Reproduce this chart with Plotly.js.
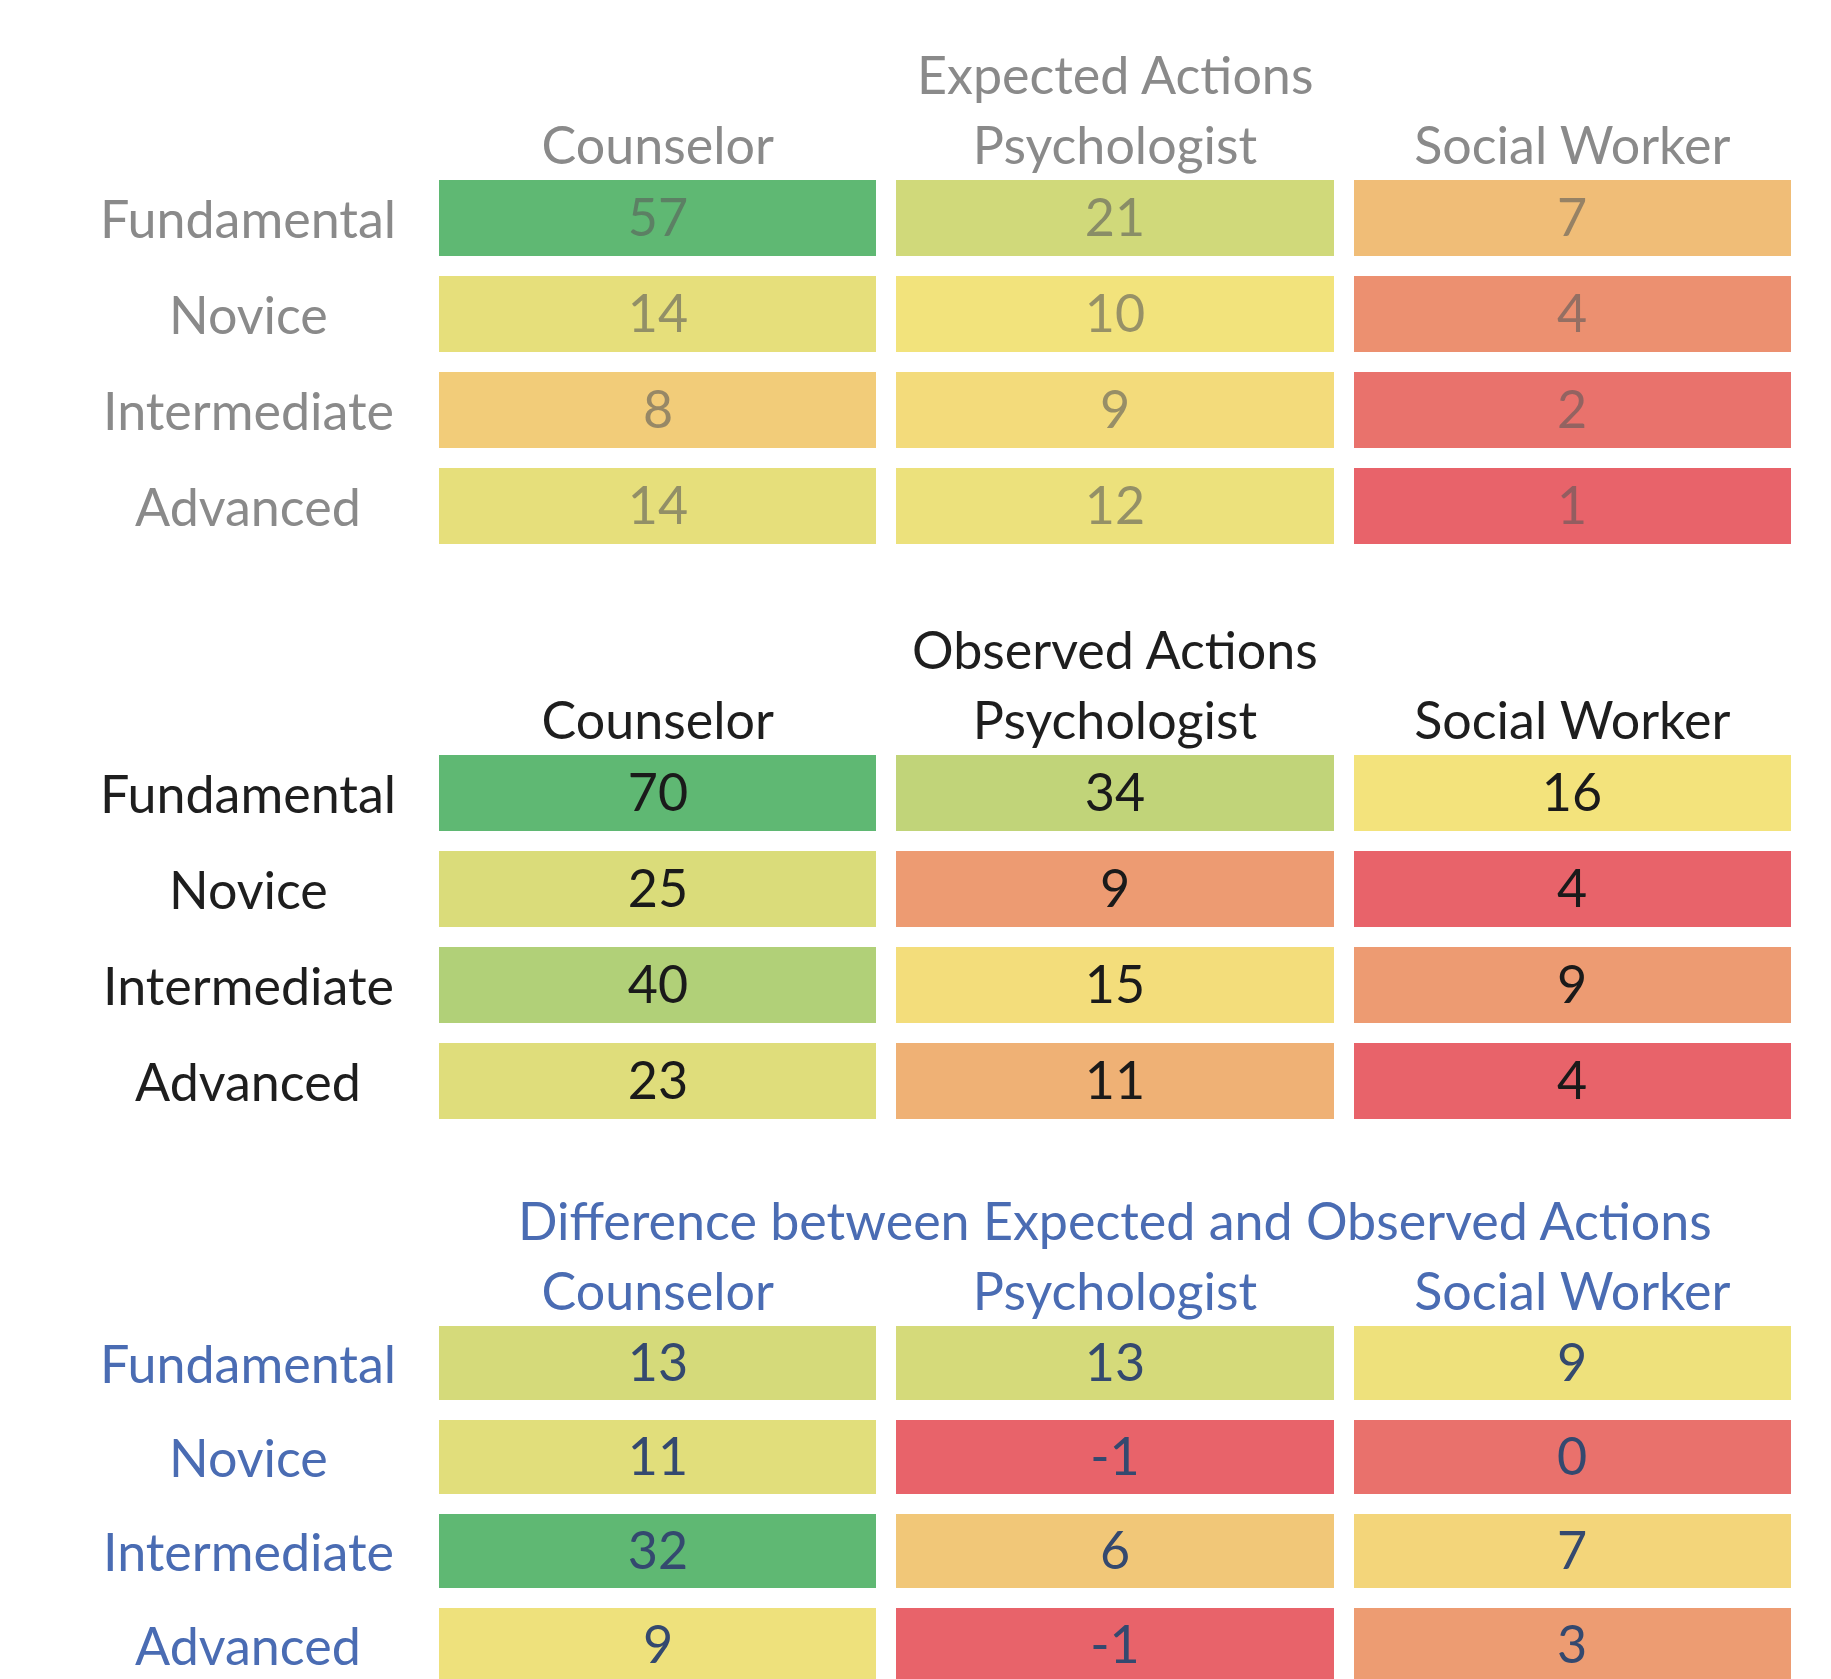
<!DOCTYPE html>
<html><head><meta charset="utf-8">
<script src="https://cdn.plot.ly/plotly-3.0.1.min.js"></script>
<style>html,body{margin:0;padding:0;background:#fff}</style>
</head><body><div id="chart" style="width:1831px;height:1679px"></div>
<script>
// ---- data ----
const roles = ['Counselor', 'Psychologist', 'Social Worker'];
const levels = ['Fundamental', 'Novice', 'Intermediate', 'Advanced'];
const expected = [[57, 21, 7], [14, 10, 4], [8, 9, 2], [14, 12, 1]];
const observed = [[70, 34, 16], [25, 9, 4], [40, 15, 9], [23, 11, 4]];
const difference = [[13, 13, 9], [11, -1, 0], [32, 6, 7], [9, -1, 3]];
const panelTitles = ['Expected Actions', 'Observed Actions', 'Difference between Expected and Observed Actions'];

// ---- styling ----
const W = 1831, H = 1679;
const FONT = 'Lato, "Open Sans", sans-serif';
const FS = 52;
const RED = '#E8636A', YEL = '#F4E37C', GRN = '#5FB873';

const panels = [
  { z: expected, title: panelTitles[0], labelColor: '#8a8a8a', cellText: 'rgba(90,90,90,0.6)', top: 170, unit: 96 },
  { z: observed, title: panelTitles[1], labelColor: '#1e1e1e', cellText: '#1a1a1a', top: 745, unit: 96 },
  { z: difference, title: panelTitles[2], labelColor: '#4a6cb3', cellText: '#34496f', top: 1316, unit: 94 }
];

function median(z) {
  const s = z.flat().slice().sort((a, b) => a - b), n = s.length;
  return n % 2 ? s[(n - 1) / 2] : (s[n / 2 - 1] + s[n / 2]) / 2;
}

const data = [], annotations = [];
const layout = {
  width: W, height: H,
  margin: { l: 0, r: 0, t: 0, b: 0 },
  paper_bgcolor: '#fff', plot_bgcolor: '#fff',
  showlegend: false,
  font: { family: FONT, size: FS }
};

panels.forEach((p, i) => {
  const k = i === 0 ? '' : String(i + 1);
  const flat = p.z.flat();
  const mn = Math.min(...flat), mx = Math.max(...flat);
  const mid = (median(p.z) - mn) / (mx - mn);
  data.push({
    type: 'heatmap', z: p.z, x: roles, y: levels,
    text: p.z.map(r => r.map(v => String(v))),
    xaxis: 'x' + k, yaxis: 'y' + k,
    zmin: mn, zmax: mx,
    colorscale: [[0, RED], [mid, YEL], [1, GRN]],
    showscale: false, xgap: 20, ygap: 20,
    texttemplate: '%{text}',
    textfont: { family: FONT, size: FS, color: p.cellText },
    hoverinfo: 'skip'
  });
  const fullBottom = p.top + 4 * p.unit;
  const bottomPx = Math.min(fullBottom, H);
  const y1 = 1 - p.top / H;
  const y0 = 1 - bottomPx / H;
  const rangeBottom = -0.5 + (bottomPx - p.top) / p.unit;
  layout['xaxis' + k] = {
    domain: [429 / W, 1801 / W], anchor: 'y' + k, side: 'top',
    showgrid: false, zeroline: false, showline: false, ticks: '',
    tickfont: { family: FONT, size: FS, color: p.labelColor },
    ticklabelstandoff: -5, fixedrange: true
  };
  layout['yaxis' + k] = {
    domain: [y0, y1], anchor: 'x' + k,
    range: [rangeBottom, -0.5],
    showgrid: false, zeroline: false, showline: false, ticks: '',
    showticklabels: false, fixedrange: true
  };
  levels.forEach(lv => annotations.push({
    xref: 'paper', x: 248 / W, xanchor: 'center',
    yref: 'y' + k, y: lv, yanchor: 'middle',
    text: lv, showarrow: false,
    font: { family: FONT, size: FS, color: p.labelColor }
  }));
  annotations.push({
    xref: 'x' + k, x: 'Psychologist', xanchor: 'center',
    yref: 'paper', y: 1 - (p.top - 96) / H, yanchor: 'middle',
    text: p.title, showarrow: false,
    font: { family: FONT, size: FS, color: p.labelColor }
  });
});
layout.annotations = annotations;

Plotly.newPlot('chart', data, layout, { staticPlot: true, displayModeBar: false });
</script>
</body></html>
